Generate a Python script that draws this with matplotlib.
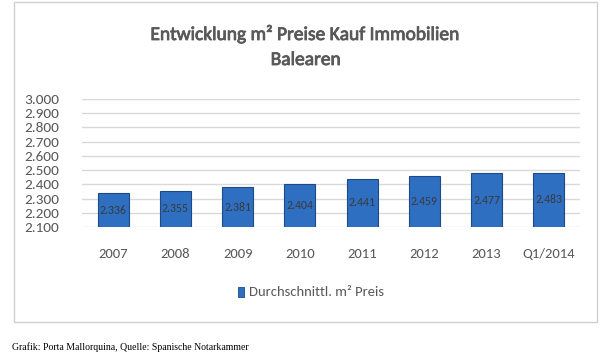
import matplotlib.pyplot as plt
import matplotlib.patches as mpatches
import matplotlib.patheffects as pe
import numpy as np

# Daten
jahre = ['2007', '2008', '2009', '2010', '2011', '2012', '2013', 'Q1/2014']
preise = [2336, 2355, 2381, 2404, 2441, 2459, 2477, 2483]
y_ticks = [2100, 2200, 2300, 2400, 2500, 2600, 2700, 2800, 2900, 3000]

def fmt(v):
    return f"{v:,}".replace(",", ".")

plt.rcParams['font.family'] = ['Carlito', 'DejaVu Sans']

fig = plt.figure(figsize=(6, 3.64), dpi=100)
fig.patch.set_facecolor('white')

# Rahmen um das Diagramm
fig.add_artist(mpatches.Rectangle((14/600, 1 - 322/364), 583/600, 320/364,
                                  transform=fig.transFigure, fill=False,
                                  edgecolor='#d0d0d0', linewidth=1))

ax = fig.add_axes([82/600, 1 - 227/364, 498/600, 128/364])
x = np.arange(len(jahre))
ax.bar(x, [p - 2100 for p in preise], bottom=2100, width=0.5,
       color='#2e6fc2', edgecolor='#1c4a86', linewidth=0.8, zorder=3)

for xi, p in zip(x, preise):
    ax.text(xi, (2100 + p) / 2, fmt(p), ha='center', va='center',
            fontsize=8.5, color='#3a3a3a', zorder=4)

ax.set_xlim(-0.5, len(jahre) - 0.5)
ax.set_ylim(2100, 3000)
ax.set_yticks(y_ticks)
ax.set_yticklabels([fmt(t) for t in y_ticks], fontsize=11, color='#595959')
ax.set_xticks(x)
ax.set_xticklabels(jahre, fontsize=10.5, color='#595959')
ax.tick_params(axis='both', length=0)
ax.tick_params(axis='x', pad=15)
ax.tick_params(axis='y', pad=16.5)
ax.grid(axis='y', color='#d9d9d9', linewidth=1, zorder=0)
for s in ax.spines.values():
    s.set_visible(False)

heavy = [pe.withStroke(linewidth=0.6, foreground='#595959')]
fig.text(306/600, 1 - 34/364, 'Entwicklung m² Preise Kauf Immobilien',
         ha='center', va='center', fontsize=14, color='#595959', path_effects=heavy)
fig.text(306/600, 1 - 60/364, 'Balearen', ha='center', va='center',
         fontsize=14, color='#595959', path_effects=heavy)

# Legende
fig.add_artist(mpatches.Rectangle((238/600, 1 - 297/364), 6/600, 10/364,
                                  transform=fig.transFigure,
                                  facecolor='#2e6fc2', edgecolor='#1c4a86', linewidth=0.6))
fig.text(249/600, 1 - 292/364, 'Durchschnittl. m² Preis', ha='left', va='center',
         fontsize=10.5, color='#595959')

fig.text(12/600, 1 - 347/364, 'Grafik: Porta Mallorquina, Quelle: Spanische Notarkammer',
         ha='left', va='center', fontsize=7, family='Liberation Serif', color='black')

fig.savefig('out.png', dpi=100)
